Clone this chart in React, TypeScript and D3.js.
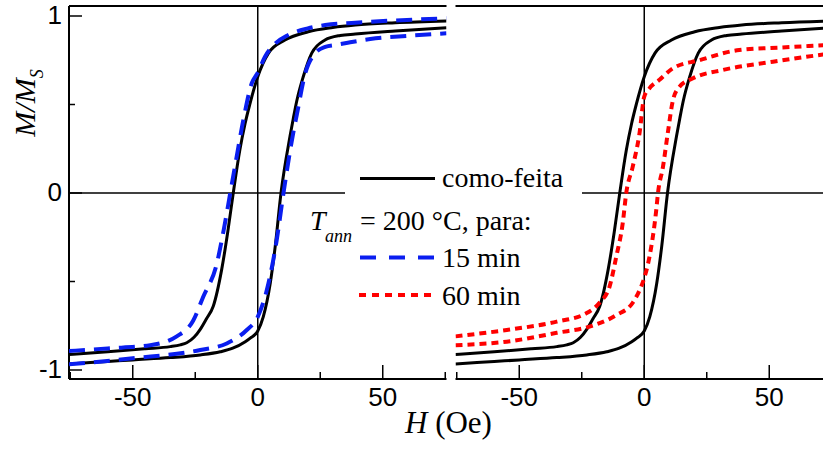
import React from 'react';
import * as d3 from 'd3';

const WIDTH = 823;
const HEIGHT = 452;

// como-feita (as-cast) loop
const asCastDownH = [-75.5, -60, -45, -35, -31, -28.4, -25.5, -23, -20.5, -17.8, -14.4, -12, -9.8, -7.2, -5.1, -3.2, 0, 4.3, 10.9, 20.2, 30, 39, 55, 75.5];
const asCastDownM = [-0.912, -0.897, -0.88, -0.868, -0.858, -0.846, -0.815, -0.77, -0.71, -0.64, -0.43, -0.22, 0, 0.24, 0.39, 0.5, 0.657, 0.79, 0.864, 0.911, 0.935, 0.949, 0.962, 0.972];
const asCastUpH = [-75.5, -60, -50, -35, -23, -15, -10, -5, -3, 0, 2.2, 5, 7, 9.3, 12.9, 14.2, 15.6, 18.2, 21.6, 26.9, 33, 39, 55, 75.5];
const asCastUpM = [-0.966, -0.952, -0.943, -0.93, -0.915, -0.897, -0.877, -0.84, -0.82, -0.78, -0.7, -0.51, -0.3, 0, 0.32, 0.42, 0.52, 0.657, 0.79, 0.864, 0.89, 0.898, 0.915, 0.934];

// 15 min annealing loop
const min15DownH = [-75.5, -60, -43, -32.4, -25.8, -21.8, -16.4, -13.5, -11, -8.5, -5.8, -2.4, 0, 2.9, 7, 12.2, 20, 27, 39, 55, 75.5];
const min15DownM = [-0.893, -0.878, -0.86, -0.81, -0.72, -0.586, -0.4, -0.2, 0, 0.2, 0.41, 0.62, 0.68, 0.77, 0.845, 0.893, 0.93, 0.949, 0.962, 0.975, 0.987];
const min15UpH = [-75.5, -50, -23, -12.4, -4.4, 0, 3.6, 7.6, 10.3, 14.2, 15.6, 19, 23, 27, 31, 36, 45, 60, 75.5];
const min15UpM = [-0.968, -0.934, -0.887, -0.85, -0.774, -0.7, -0.55, -0.265, 0, 0.34, 0.44, 0.676, 0.79, 0.825, 0.836, 0.849, 0.87, 0.888, 0.902];

// 60 min annealing loop
const min60DownH = [-75.5, -55, -35, -23.2, -17.9, -13.9, -11.2, -8.6, -7.2, -4.6, -1.9, 0, 2, 6.1, 11.5, 22, 38, 55, 75.5];
const min60DownM = [-0.81, -0.774, -0.727, -0.68, -0.62, -0.53, -0.36, -0.17, 0, 0.149, 0.337, 0.545, 0.59, 0.64, 0.705, 0.75, 0.808, 0.822, 0.838];
const min60UpH = [-75.5, -55, -35, -21.9, -11.2, -4.6, -1.9, 0, 2.1, 4.8, 5.5, 7.5, 9.4, 11.5, 14.1, 19.5, 31.4, 51.5, 75.5];
const min60UpM = [-0.86, -0.84, -0.79, -0.755, -0.69, -0.62, -0.55, -0.48, -0.36, -0.096, 0, 0.149, 0.337, 0.525, 0.6, 0.648, 0.695, 0.742, 0.79];

const xMajorTicks = [-50, 0, 50];
const xMinorTicks = [-75, -25, 25, 75];
const yMajorTicks = [-1, 0, 1];
const yMinorTicks = [-0.5, 0.5];

const legendLabels = ['como-feita', '15 min', '60 min'];

const zip = (hs: number[], ms: number[]) => hs.map((h, i) => [h, ms[i]] as [number, number]);

export default function App() {
  const y = d3.scaleLinear().domain([-1, 1]).range([370, 16]);
  const xL = d3.scaleLinear().domain([-75.5, 75.5]).range([69, 446.5]);
  const xR = d3.scaleLinear().domain([-75.5, 75.5]).range([455.5, 833]);
  const top = 6;
  const bottom = 379;

  const mkLine = (x: d3.ScaleLinear<number, number>) =>
    d3.line<[number, number]>().x(d => x(d[0])).y(d => y(d[1])).curve(d3.curveMonotoneX);

  const lineL = mkLine(xL);
  const lineR = mkLine(xR);

  const sans = '"Liberation Sans", Arial, sans-serif';
  const serif = '"Liberation Serif", "Times New Roman", serif';

  const panelAxis = (x: d3.ScaleLinear<number, number>, key: string) => {
    const [r0, r1] = x.range();
    const x1 = Math.min(r1, WIDTH);
    return (
      <g key={key}>
        <line x1={r0} x2={x1} y1={top} y2={top} stroke="#000" strokeWidth={2} />
        <line x1={r0} x2={x1} y1={bottom} y2={bottom} stroke="#000" strokeWidth={2} />
        <line x1={x(0)} x2={x(0)} y1={top} y2={bottom} stroke="#000" strokeWidth={1.5} />
        {xMajorTicks.map(t => (
          <g key={'M' + t}>
            <line x1={x(t)} x2={x(t)} y1={bottom} y2={bottom - 14} stroke="#000" strokeWidth={1.5} />
            <text x={x(t)} y={406} textAnchor="middle" fontFamily={sans} fontSize={26}>{t < 0 ? '-' + Math.abs(t) : String(t)}</text>
          </g>
        ))}
        {xMinorTicks.map(t => (
          <line key={'m' + t} x1={x(t)} x2={x(t)} y1={bottom} y2={bottom - 7} stroke="#000" strokeWidth={1.5} />
        ))}
      </g>
    );
  };

  return (
    <svg width={WIDTH} height={HEIGHT} style={{ position: 'absolute', left: 0, top: 0, background: '#fff' }}>
      <defs>
        <clipPath id="clipL"><rect x={xL.range()[0]} y={top} width={xL.range()[1] - xL.range()[0]} height={bottom - top} /></clipPath>
        <clipPath id="clipR"><rect x={xR.range()[0]} y={top} width={xR.range()[1] - xR.range()[0]} height={bottom - top} /></clipPath>
      </defs>
      <rect x={0} y={0} width={WIDTH} height={HEIGHT} fill="#fff" />

      {/* zero line */}
      <line x1={69} x2={WIDTH} y1={y(0)} y2={y(0)} stroke="#000" strokeWidth={1.5} />

      {panelAxis(xL, 'L')}
      {panelAxis(xR, 'R')}

      {/* left y axis */}
      <line x1={69} x2={69} y1={top} y2={bottom} stroke="#000" strokeWidth={2} />
      {yMajorTicks.map(t => (
        <g key={'y' + t}>
          <line x1={69} x2={82} y1={y(t)} y2={y(t)} stroke="#000" strokeWidth={1.5} />
          <text x={62} y={y(t) + 8} textAnchor="end" fontFamily={sans} fontSize={26}>{t < 0 ? '-' + Math.abs(t) : String(t)}</text>
        </g>
      ))}
      {yMinorTicks.map(t => (
        <line key={'ym' + t} x1={69} x2={75} y1={y(t)} y2={y(t)} stroke="#000" strokeWidth={1.5} />
      ))}

      {/* left panel curves */}
      <g clipPath="url(#clipL)" fill="none">
        <path d={lineL(zip(asCastDownH, asCastDownM)) || ''} stroke="#000" strokeWidth={3} />
        <path d={lineL(zip(asCastUpH, asCastUpM)) || ''} stroke="#000" strokeWidth={3} />
        <path d={lineL(zip(min15DownH, min15DownM)) || ''} stroke="#0a1ef0" strokeWidth={4} strokeDasharray="16,9" />
        <path d={lineL(zip(min15UpH, min15UpM)) || ''} stroke="#0a1ef0" strokeWidth={4} strokeDasharray="16,9" />
      </g>

      {/* right panel curves */}
      <g clipPath="url(#clipR)" fill="none">
        <path d={lineR(zip(asCastDownH, asCastDownM)) || ''} stroke="#000" strokeWidth={3} />
        <path d={lineR(zip(asCastUpH, asCastUpM)) || ''} stroke="#000" strokeWidth={3} />
        <path d={lineR(zip(min60DownH, min60DownM)) || ''} stroke="#ff0000" strokeWidth={4} strokeDasharray="7,5" />
        <path d={lineR(zip(min60UpH, min60UpM)) || ''} stroke="#ff0000" strokeWidth={4} strokeDasharray="7,5" />
      </g>

      {/* legend */}
      <rect x={345} y={168} width={237} height={144} fill="#fff" />
      <line x1={360} x2={435} y1={178.5} y2={178.5} stroke="#000" strokeWidth={3} />
      <text x={442} y={187} fontFamily={serif} fontSize={28}>{legendLabels[0]}</text>
      <text x={310} y={230} fontFamily={serif} fontSize={28}>
        <tspan fontStyle="italic">T</tspan>
      </text>
      <text x={325} y={241.5} fontFamily={serif} fontSize={18} fontStyle="italic">ann</text>
      <text x={360} y={230} fontFamily={serif} fontSize={28}>= 200 °C, para:</text>
      <line x1={360} x2={435} y1={257.5} y2={257.5} stroke="#0a1ef0" strokeWidth={4} strokeDasharray="16,13" />
      <text x={442} y={267} fontFamily={serif} fontSize={28}>{legendLabels[1]}</text>
      <line x1={359} x2={435} y1={295} y2={295} stroke="#ff0000" strokeWidth={4} strokeDasharray="7,6" />
      <text x={442} y={304.5} fontFamily={serif} fontSize={28}>{legendLabels[2]}</text>

      {/* axis titles */}
      <text x={405} y={433} fontFamily={serif} fontSize={31}>
        <tspan fontStyle="italic">H</tspan> (Oe)
      </text>
      <text transform="translate(35,103) rotate(-90)" textAnchor="middle" fontFamily={serif} fontSize={30} fontStyle="italic">
        M/M<tspan fontSize={18} dy={8}>S</tspan>
      </text>
    </svg>
  );
}
